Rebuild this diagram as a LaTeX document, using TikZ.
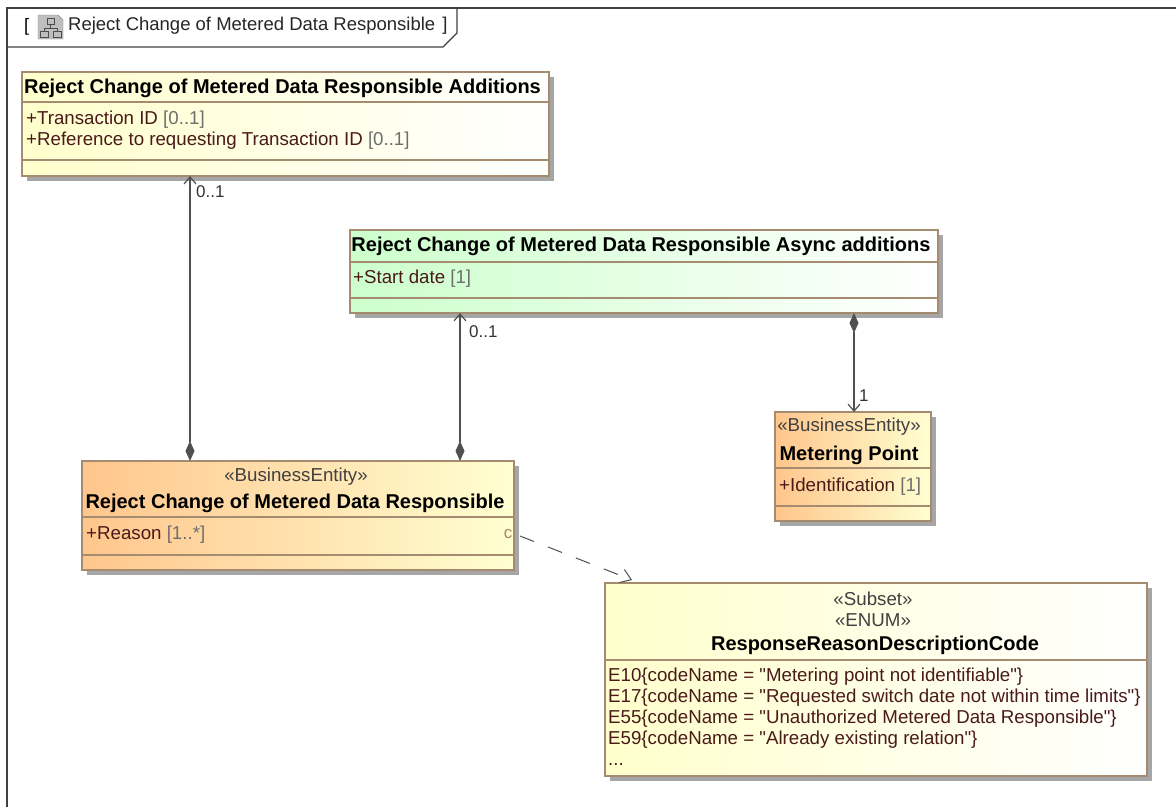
\documentclass[tikz,border=0pt]{standalone}
\usepackage{fontspec}
\setmainfont{Liberation Sans}[Ligatures=TeXOff]
\usetikzlibrary{arrows.meta,shadows}
\definecolor{boxline}{HTML}{A58B6F}
\definecolor{attrbrown}{HTML}{4A1A1A}
\definecolor{multgrey}{HTML}{6E6E6E}
\definecolor{lineink}{HTML}{505050}
\newcommand{\multi}[1]{{\color{multgrey}#1}}
\tikzset{
    classbox/.style={draw=boxline, line width=1.3pt, anchor=north west, inner sep=0pt, outer sep=0pt,
        general shadow={fill=black!35, shadow xshift=4.5pt, shadow yshift=-4.5pt}},
    yellowbox/.style={classbox, left color=yellow!20, right color=white},
    greenbox/.style={classbox, left color=green!20, right color=white},
    orangebox/.style={classbox, left color=orange!45, right color=yellow!18},
    divider/.style={draw=boxline, line width=1.1pt},
    titletext/.style={font=\fontsize{20}{21}\selectfont\bfseries, text=black, inner sep=0pt},
    stereotext/.style={font=\fontsize{18.7}{21}\selectfont, text=black!75, inner sep=0pt, align=center},
    attrtext/.style={font=\fontsize{18.7}{21}\selectfont, text=attrbrown, anchor=north west, inner sep=0pt, align=left},
    endlabel/.style={font=\fontsize{17}{21}\selectfont, text=black!80, inner sep=0pt},
    assoc/.style={draw=lineink, line width=1.2pt,
        arrows={Diamond[length=20pt,width=9pt]-Straight Barb[length=7pt,width=12pt]}},
    depend/.style={draw=lineink, line width=1pt, dash pattern=on 15pt off 15pt,
        -{Straight Barb[length=10pt,width=14pt]}}
}
\begin{document}
\begin{tikzpicture}[x=1pt,y=-1pt]
    \useasboundingbox (0,0) rectangle (1176,807);

    \draw[black!75, line width=1.2pt] (1176,8) -- (7,8) -- (7,807);
    \draw[black!75, line width=1.2pt] (7,47) -- (443,47) -- (457,33) -- (457,8);
    \node[font=\fontsize{18}{21}\selectfont, inner sep=0pt, anchor=west] (framebracket) at (24,27) {[};
    \draw[fill=black!25, draw=black!50] (38,15) -- (58,15) -- (63,20) -- (63,39) -- (38,39) -- cycle;
    \draw[black!70, line width=.7pt] (47,18) rectangle (54,24) (50.5,24) -- (50.5,28) (44,28) -- (57,28)
        (44,28) -- (44,31) (57,28) -- (57,31) (40,31) rectangle (48,37) (53,31) rectangle (61,37);
    \node[font=\fontsize{18.5}{21}\selectfont, inner sep=0pt, anchor=west, text=black!85] (frametitle) at (68,26) {Reject Change of Metered Data Responsible\hspace{7pt}]};

    \node[yellowbox, minimum width=527pt, minimum height=104pt] (additions) at (22,72) {};
    \draw[divider] (additions.west |- 0,102) -- (additions.east |- 0,102);
    \draw[divider] (additions.west |- 0,160) -- (additions.east |- 0,160);
    \node[titletext] (additionstitle) at (282.5,88) {Reject Change of Metered Data Responsible Additions};
    \node[attrtext] (additionsattr) at (26,111) {+Transaction ID \multi{[0..1]}\\+Reference to requesting Transaction ID \multi{[0..1]}};

    \node[greenbox, minimum width=588pt, minimum height=83pt] (async) at (350,230) {};
    \draw[divider] (async.west |- 0,262) -- (async.east |- 0,262);
    \draw[divider] (async.west |- 0,298) -- (async.east |- 0,298);
    \node[titletext] (asynctitle) at (641,246) {Reject Change of Metered Data Responsible Async additions};
    \node[attrtext] (asyncattr) at (353,270) {+Start date \multi{[1]}};

    \node[orangebox, minimum width=432pt, minimum height=109pt] (reject) at (82,461) {};
    \draw[divider] (reject.west |- 0,517) -- (reject.east |- 0,517);
    \draw[divider] (reject.west |- 0,555) -- (reject.east |- 0,555);
    \node[stereotext] (rejectstereo) at (296,477) {«BusinessEntity»};
    \node[titletext] (rejecttitle) at (295,503) {Reject Change of Metered Data Responsible};
    \node[attrtext] (rejectattr) at (86,526) {+Reason \multi{[1..*]}};
    \node[font=\fontsize{17}{17}\selectfont, text=boxline, inner sep=0pt] (rejectmark) at (508,534) {c};

    \node[orangebox, minimum width=156pt, minimum height=109pt] (metering) at (775,412) {};
    \draw[divider] (metering.west |- 0,468) -- (metering.east |- 0,468);
    \draw[divider] (metering.west |- 0,506) -- (metering.east |- 0,506);
    \node[stereotext] (meteringstereo) at (849,427) {«BusinessEntity»};
    \node[titletext] (meteringtitle) at (849,455) {Metering Point};
    \node[attrtext] (meteringattr) at (779,478) {+Identification \multi{[1]}};

    \node[yellowbox, minimum width=542pt, minimum height=193pt] (enum) at (605,583) {};
    \draw[divider] (enum.west |- 0,660) -- (enum.east |- 0,660);
    \node[stereotext] (enumstereo) at (873,609) {«Subset»\\«ENUM»};
    \node[titletext] (enumtitle) at (875,645) {ResponseReasonDescriptionCode};
    \node[attrtext] (enumattr) at (608,668) {E10\{codeName = "Metering point not identifiable"\}\\
        E17\{codeName = "Requested switch date not within time limits"\}\\
        E55\{codeName = "Unauthorized Metered Data Responsible"\}\\
        E59\{codeName = "Already existing relation"\}\\
        ...};

    \coordinate (rejectleft) at (190,461);
    \coordinate (rejectright) at (460,461);
    \coordinate (asyncfoot) at (854,313);
    \coordinate (rejectexit) at (520,536);
    \coordinate (enumentry) at (632,580);

    \draw[assoc] (rejectleft |- reject.north) -- (rejectleft |- additions.south);
    \draw[assoc] (rejectright |- reject.north) -- (rejectright |- async.south);
    \draw[assoc] (asyncfoot |- async.south) -- (asyncfoot |- metering.north);
    \draw[depend] (rejectexit) -- (enumentry);

    \node[endlabel, anchor=west] (additionsend) at (196,192) {0..1};
    \node[endlabel, anchor=west] (asyncend) at (469,332) {0..1};
    \node[endlabel, anchor=west] (meteringend) at (859,396) {1};
\end{tikzpicture}
\end{document}
